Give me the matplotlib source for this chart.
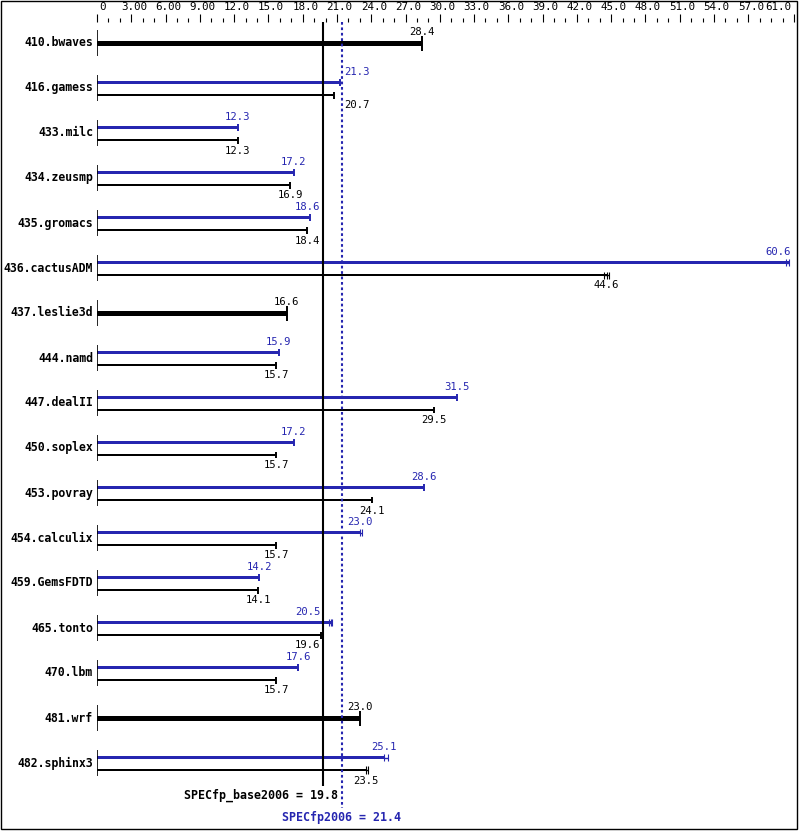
import numpy as np
import matplotlib
matplotlib.use('Agg')
import matplotlib.pyplot as plt
from matplotlib.transforms import ScaledTranslation
from matplotlib.patches import Rectangle

benchmarks = ['410.bwaves', '416.gamess', '433.milc', '434.zeusmp', '435.gromacs',
              '436.cactusADM', '437.leslie3d', '444.namd', '447.dealII', '450.soplex',
              '453.povray', '454.calculix', '459.GemsFDTD', '465.tonto', '470.lbm',
              '481.wrf', '482.sphinx3']
base = [28.4, 20.7, 12.3, 16.9, 18.4, 44.6, 16.6, 15.7, 29.5, 15.7,
        24.1, 15.7, 14.1, 19.6, 15.7, 23.0, 23.5]
# nan = peak same as base (single thick bar)
peak = [np.nan, 21.3, 12.3, 17.2, 18.6, 60.6, np.nan, 15.9, 31.5, 17.2,
        28.6, 23.0, 14.2, 20.5, 17.6, np.nan, 25.1]
# individual run results where they differ visibly from the median
base_runs = {'436.cactusADM': [44.4, 44.6, 44.8], '482.sphinx3': [23.5, 23.7]}
peak_runs = {'436.cactusADM': [60.3, 60.6], '454.calculix': [23.0, 23.2],
             '465.tonto': [20.3, 20.6], '482.sphinx3': [25.1, 25.5]}
base_mean = 19.8
peak_mean = 21.4
xmax = 61.0
major_ticks = [0, 3, 6, 9, 12, 15, 18, 21, 24, 27, 30, 33, 36, 39, 42, 45, 48, 51, 54, 57, 61]
major_labels = ['0', '3.00', '6.00', '9.00', '12.0', '15.0', '18.0', '21.0', '24.0', '27.0',
                '30.0', '33.0', '36.0', '39.0', '42.0', '45.0', '48.0', '51.0', '54.0',
                '57.0', '61.0']

W, H = 799, 831
blue = '#2626b0'
mono = 'DejaVu Sans Mono'

fig = plt.figure(figsize=(W / 100, H / 100), dpi=100)
ax = fig.add_axes([97 / W, 0, (794 - 97) / W, (H - 22) / H])
ax.set_xlim(0, xmax)
ypx = 1 / 45.0                       # data units per pixel (rows are 45 px apart)
xpx = xmax / (794 - 97)
top = -21 * ypx
ax.set_ylim(top + (H - 22) * ypx, top)

for s in ax.spines.values():
    s.set_visible(False)
ax.set_yticks([])
ax.xaxis.tick_top()
ax.set_xticks(major_ticks)
ax.set_xticklabels(major_labels, fontfamily=mono, fontsize=7.8)
ax.set_xticks([v for v in range(0, 62) if v not in major_ticks], minor=True)
ax.tick_params(axis='x', which='major', length=5.8, width=0.8, pad=1.5, direction='out')
ax.tick_params(axis='x', which='minor', length=2.9, width=0.8, direction='out')
labels = ax.get_xticklabels()
for lbl in labels:
    lbl.set_transform(lbl.get_transform() + ScaledTranslation(2.5 / 100, 0, fig.dpi_scale_trans))
labels[0].set_transform(labels[0].get_transform() + ScaledTranslation(2.5 / 100, 0, fig.dpi_scale_trans))
labels[-1].set_horizontalalignment('right')
labels[-1].set_transform(labels[-1].get_transform() + ScaledTranslation(-5.5 / 100, 0, fig.dpi_scale_trans))

val_fs = 7.6
char_w = 0.602 * val_fs / 72 * 100 * xpx


def place_label(v, y, txt, color):
    w = len(txt) * char_w
    gap = 0.25
    lines = [base_mean, peak_mean]
    cands = [v]
    for ln in lines:
        cands.append(ln - gap - w / 2)
        cands.append(ln + gap + w / 2)
    best = None
    for c in sorted(cands, key=lambda c: abs(c - v)):
        lo, hi = c - w / 2, c + w / 2
        if hi > xmax:
            continue
        if any(lo - 0.1 < ln < hi + 0.1 for ln in lines):
            continue
        best = c
        break
    if best is None or v + w / 2 > xmax:
        ax.text(xmax - 0.25, y, txt, ha='right', va='center', fontfamily=mono,
                fontsize=val_fs, color=color, clip_on=False)
    else:
        ax.text(best, y, txt, ha='center', va='center', fontfamily=mono,
                fontsize=val_fs, color=color, clip_on=False)


def draw_bar(v, y, runs, color, thick):
    h = (5 if thick else 2.6) * ypx
    ax.barh(y, v, height=h, left=0, color=color, linewidth=0)
    caps = sorted(set(runs + [v]))
    ch = (7.5 if thick else 3.5) * ypx
    if len(caps) > 1:
        ax.hlines(y, caps[0], caps[-1], color=color, linewidth=1.0)
        ax.vlines(caps, y - ch, y + ch, color=color, linewidth=0.8)
    else:
        ax.vlines(caps, y - ch, y + ch, color=color, linewidth=1.4)


for i, name in enumerate(benchmarks):
    ax.text(-4 * xpx, i, name, ha='right', va='center', fontfamily=mono,
            fontweight='bold', fontsize=8.3, color='black', clip_on=False)
    ax.vlines(0, i - 13 * ypx, i + 13 * ypx, color='black', linewidth=1.2)
    if np.isnan(peak[i]):
        draw_bar(base[i], i, base_runs.get(name, []), 'black', True)
        place_label(base[i], i - 11 * ypx, f'{base[i]:.1f}', 'black')
    else:
        yb = i - 5.5 * ypx
        yk = i + 7 * ypx
        draw_bar(peak[i], yb, peak_runs.get(name, []), blue, False)
        draw_bar(base[i], yk, base_runs.get(name, []), 'black', False)
        place_label(peak[i], yb - 10.5 * ypx, f'{peak[i]:.1f}', blue)
        place_label(base[i], yk + 10.5 * ypx, f'{base[i]:.1f}', 'black')

ax.vlines(base_mean, top, (786 - 43) * ypx, color='black', linewidth=1.5)
ax.vlines(peak_mean, top, (808 - 43) * ypx, color=blue, linewidth=1.5,
          linestyles=(0, (1.3, 1.3)))
ax.text(peak_mean - 0.35, (795 - 43) * ypx, f'SPECfp_base2006 = {base_mean}', ha='right',
        va='center', fontfamily=mono, fontweight='bold', fontsize=8.4, color='black')
ax.text(peak_mean, (817 - 43) * ypx, f'SPECfp2006 = {peak_mean}', ha='center',
        va='center', fontfamily=mono, fontweight='bold', fontsize=8.4, color=blue)

fig.patches.append(Rectangle((0.6 / W, 1.6 / H), (797 - 0.6) / W, (H - 2.2) / H,
                             transform=fig.transFigure, fill=False, edgecolor='black',
                             linewidth=1.0))

fig.savefig('out.png', dpi=100)
